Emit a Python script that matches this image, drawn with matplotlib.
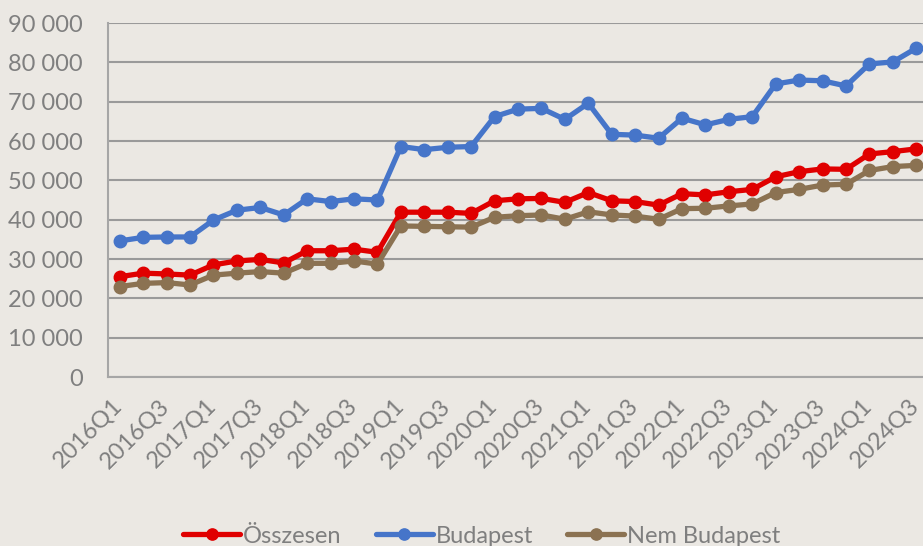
import matplotlib
matplotlib.use("Agg")
import matplotlib.pyplot as plt
import matplotlib.transforms as mtransforms
import numpy as np

quarters = [f"{y}Q{q}" for y in range(2016, 2025) for q in range(1, 5)][:35]

osszesen = [25.5, 26.4, 26.2, 25.9, 28.5, 29.5, 29.9, 29.0, 32.1, 32.1, 32.5, 31.7,
            41.9, 41.9, 41.9, 41.6, 44.8, 45.3, 45.4, 44.4, 46.9, 44.8, 44.6, 43.7,
            46.6, 46.3, 47.1, 47.7, 50.9, 52.2, 52.9, 52.8, 56.7, 57.3, 58.0]
budapest = [34.6, 35.5, 35.6, 35.6, 39.9, 42.4, 43.1, 41.2, 45.3, 44.6, 45.3, 45.0,
            58.6, 57.8, 58.4, 58.6, 66.2, 68.1, 68.3, 65.5, 69.6, 61.7, 61.5, 60.7,
            65.8, 64.1, 65.5, 66.2, 74.5, 75.5, 75.3, 74.0, 79.6, 80.1, 83.6]
nem_budapest = [23.0, 23.8, 24.0, 23.4, 25.9, 26.4, 26.8, 26.4, 28.9, 28.9, 29.5, 28.7,
                38.4, 38.3, 38.2, 38.1, 40.6, 41.0, 41.2, 40.1, 42.0, 41.2, 40.9, 40.1,
                42.8, 42.9, 43.5, 44.0, 46.9, 47.7, 48.8, 49.0, 52.5, 53.5, 53.8]

series_names = ["Összesen", "Budapest", "Nem Budapest"]
colors = ["#e00000", "#4675c9", "#8b7252"]

bg = "#ebe8e3"
txt = "#7f7f7f"
plt.rcParams['font.family'] = ['Lato', 'DejaVu Sans']

fig = plt.figure(figsize=(9.23, 5.46), dpi=100, facecolor=bg)
W, H = 923, 546
left, right, top, bottom = 108, 928, 23, 377
ax = fig.add_axes([left / W, 1 - bottom / H, (right - left) / W, (bottom - top) / H])
ax.set_facecolor(bg)

x = np.arange(len(quarters))
for name, vals, c in zip(series_names, [osszesen, budapest, nem_budapest], colors):
    ax.plot(x, np.array(vals) * 1000, color=c, lw=3.8, marker='o', ms=9,
            label=name, solid_capstyle='round', clip_on=False, zorder=3)

ax.set_xlim(-0.5, len(quarters) - 0.5)
ax.set_ylim(0, 90000)
yt = np.arange(0, 90001, 10000)
ax.set_yticks(yt)
ax.set_yticklabels([f"{v:,}".replace(",", " ") for v in yt], color=txt, fontsize=17)

# category labels (every second quarter), rotated 45 degrees
ax.set_xticks(x[::2])
ax.set_xticklabels([])
lab_tr = ax.get_xaxis_transform() + mtransforms.ScaledTranslation(-8 / 100, -18 / 100, fig.dpi_scale_trans)
for xi, q in zip(x[::2], quarters[::2]):
    ax.text(xi, 0, q, transform=lab_tr, rotation=45, ha='right', va='top',
            rotation_mode='anchor', color=txt, fontsize=17, clip_on=False)

ax.tick_params(axis='x', length=0)
ax.tick_params(axis='y', length=0, pad=18)
ax.grid(axis='y', color='#9a9a9a', lw=1.5, zorder=0)
for s in ['top', 'right']:
    ax.spines[s].set_visible(False)
for s in ['left', 'bottom']:
    ax.spines[s].set_color('#a6a6a6')
    ax.spines[s].set_linewidth(1.5)

fig.legend(loc='center', bbox_to_anchor=(0.522, 0.018), ncol=3, frameon=False,
           fontsize=17, labelcolor=txt, handlelength=2.4, handletextpad=0.13,
           columnspacing=1.45, markerscale=0.9)

fig.savefig("out.png", dpi=100, facecolor=bg)
